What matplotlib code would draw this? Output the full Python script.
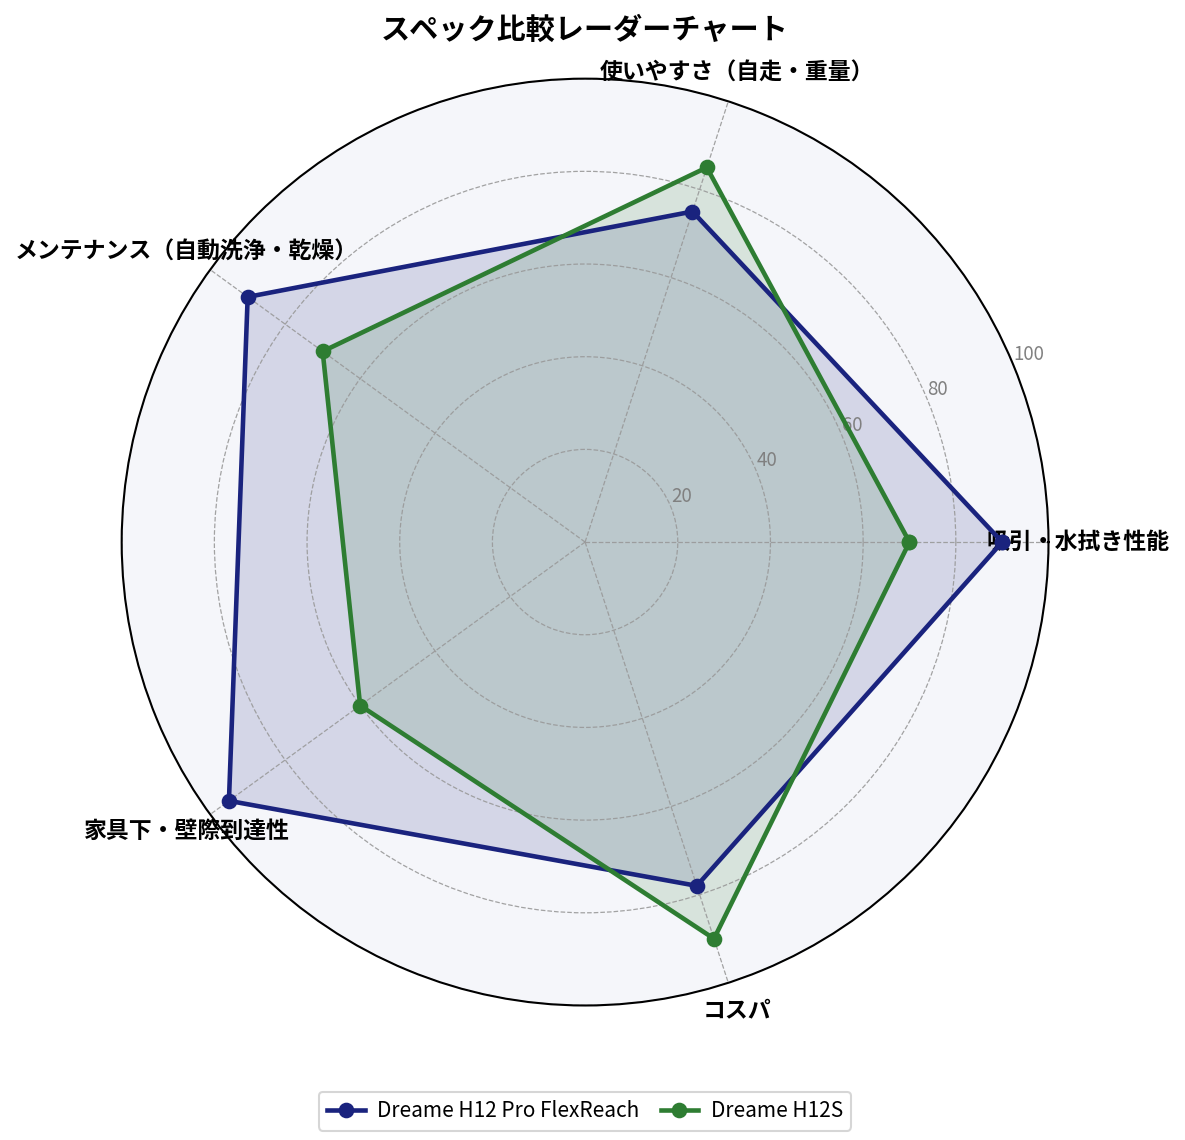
import matplotlib
matplotlib.use("Agg")
import matplotlib.pyplot as plt
import numpy as np

plt.rcParams["font.family"] = ["Noto Sans CJK JP", "DejaVu Sans"]

categories = ["吸引・水拭き性能", "使いやすさ（自走・重量）", "メンテナンス（自動洗浄・乾燥）",
              "家具下・壁際到達性", "コスパ"]
pro_flexreach = [90, 75, 90, 95, 78]
h12s = [70, 85, 70, 60, 90]
series_names = ["Dreame H12 Pro FlexReach", "Dreame H12S"]
series_colors = ["#1a237e", "#2e7d32"]
r_ticks = [20, 40, 60, 80, 100]

n = len(categories)
angles = np.linspace(0, 2 * np.pi, n, endpoint=False).tolist()
angles += angles[:1]

fig = plt.figure(figsize=(7.9, 7.6), dpi=150)
ax = fig.add_axes([0.1025, 0.118, 0.7825, 0.813], polar=True)
ax.set_facecolor("#f5f6fa")

for vals, name, col in zip([pro_flexreach, h12s], series_names, series_colors):
    v = list(vals) + vals[:1]
    ax.plot(angles, v, color=col, lw=2.2, marker="o", ms=6.5, label=name)
    ax.fill(angles, v, color=col, alpha=0.15)

ax.set_xticks(angles[:-1])
ax.set_xticklabels(categories, fontsize=11, fontweight="bold")
ax.set_ylim(0, 100)
ax.set_yticks(r_ticks)
ax.set_yticklabels([str(t) for t in r_ticks], fontsize=9, color="#808080")
ax.grid(color="#999999", ls="--", lw=0.6, alpha=0.9)
ax.spines["polar"].set_color("black")
ax.spines["polar"].set_linewidth(1.0)

ax.set_title("スペック比較レーダーチャート", fontsize=14, fontweight="bold", pad=19)
ax.legend(loc="upper center", bbox_to_anchor=(0.5, -0.082), ncol=2, fontsize=10,
          frameon=True, handlelength=1.8, columnspacing=1.0, handletextpad=0.6)

fig.savefig("out.png", dpi=150)
